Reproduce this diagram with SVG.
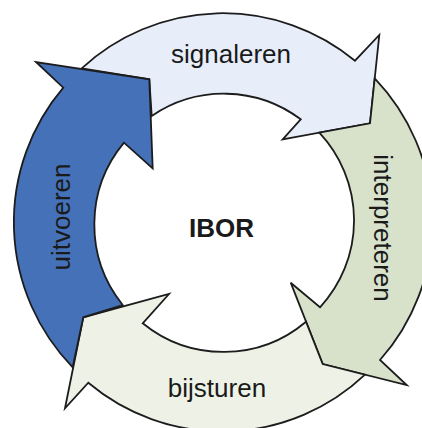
<svg xmlns="http://www.w3.org/2000/svg" width="422" height="428" viewBox="0 0 422 428">
<style>
.arrow{stroke:#1c1c1c;stroke-width:1.8;stroke-linejoin:miter}
.lbl{font-family:"Liberation Sans",Arial,sans-serif;font-size:26px;fill:#1a1a1a;text-anchor:middle}
</style>
<rect width="422" height="428" fill="#ffffff"/>
<g id="signaleren">
<path class="arrow" fill="#e7eef9" d="M81.7,68.3 A208,208 0 0 1 355,60.7 L379.3,35 L370,123.3 L282.7,139.3 L300.7,119.3 A128,128 0 0 0 151.7,116 L149.3,79.3 Z"/>
<text class="lbl" x="231" y="63">signaleren</text>
</g>
<g id="interpreteren">
<path class="arrow" fill="#d8e2ca" d="M374.7,78.3 A208,208 0 0 1 380,360 L406.7,385 L322.7,364 L290.7,282.7 L320,307.3 A128,128 0 0 0 319.3,132.7 L370,123.3 Z"/>
<text class="lbl" transform="translate(374,228) rotate(90)">interpreteren</text>
</g>
<g id="bijsturen">
<path class="arrow" fill="#eef2e6" d="M365,374.6 A208,208 0 0 1 88.3,382.7 L65,408.3 L83.3,317.3 L169,294 L142.7,323.3 A128,128 0 0 0 306,321.7 L322.7,364 Z"/>
<text class="lbl" x="217" y="397">bijsturen</text>
</g>
<g id="uitvoeren">
<path class="arrow" fill="#4471b8" d="M72.7,367.3 A208,208 0 0 1 63.3,87.7 L36,62 L149.3,79.3 L152.7,168.3 L124,142.7 A128,128 0 0 0 122.7,305 L83.3,317.3 Z"/>
<text class="lbl" transform="translate(70,217) rotate(-90)">uitvoeren</text>
</g>
<g id="IBOR">
<text class="lbl" x="221.5" y="237" style="font-weight:bold">IBOR</text>
</g>
<g id="connectors"></g>
</svg>
